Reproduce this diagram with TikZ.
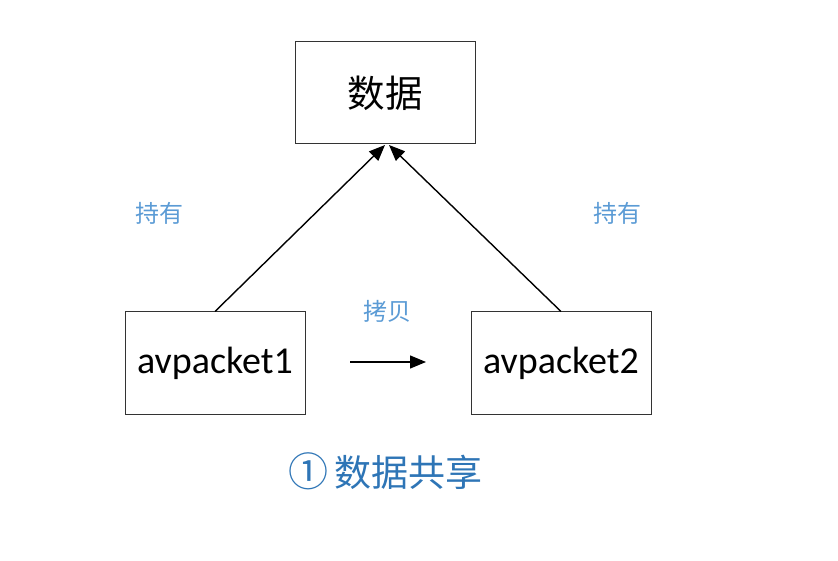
\documentclass[tikz,border=0pt]{standalone}
\usepackage{fontspec}
\setmainfont{Carlito}
\newfontfamily\cjk{Noto Sans CJK SC}
\usetikzlibrary{arrows.meta}
\definecolor{lblue}{RGB}{91,155,213}
\definecolor{dblue}{RGB}{46,117,182}
\tikzset{
  box/.style={draw=black!80, line width=1pt, minimum width=180pt, minimum height=102pt, inner sep=0pt, fill=white},
  conn/.style={line width=1.4pt, -{Triangle[length=16pt,width=13pt]}},
  lbl/.style={text=lblue, font=\cjk\fontsize{24}{28}\selectfont, inner sep=0pt}
}
\begin{document}
\begin{tikzpicture}[x=1pt,y=-1pt]
\useasboundingbox (0,0) rectangle (838,561);
\node[box, font=\cjk\fontsize{37.5}{42}\selectfont] (data) at (385,93) {数据};
\node[box, font=\fontsize{38}{42}\selectfont] (p1) at (215,363) {avpacket1};
\node[box, font=\fontsize{38}{42}\selectfont] (p2) at (561,363) {avpacket2};
\coordinate (t1) at (385,145);
\coordinate (t2) at (389,145);
\draw[conn] (p1.north) -- (t1);
\draw[conn] (p2.north) -- (t2);
\coordinate (m1) at (350,362);
\coordinate (m2) at (426,362);
\draw[conn] (m1) -- (m2);
\node[lbl] (h1) at (159,213) {持有};
\node[lbl] (h2) at (617,213) {持有};
\node[lbl] (cp) at (387,311) {拷贝};
\node[text=dblue, inner sep=0pt, font=\cjk] (cap) at (385,471) {{\fontsize{40}{46}\selectfont ①}\hspace{6pt}{\fontsize{37}{42}\selectfont 数据共享}};
\end{tikzpicture}
\end{document}
